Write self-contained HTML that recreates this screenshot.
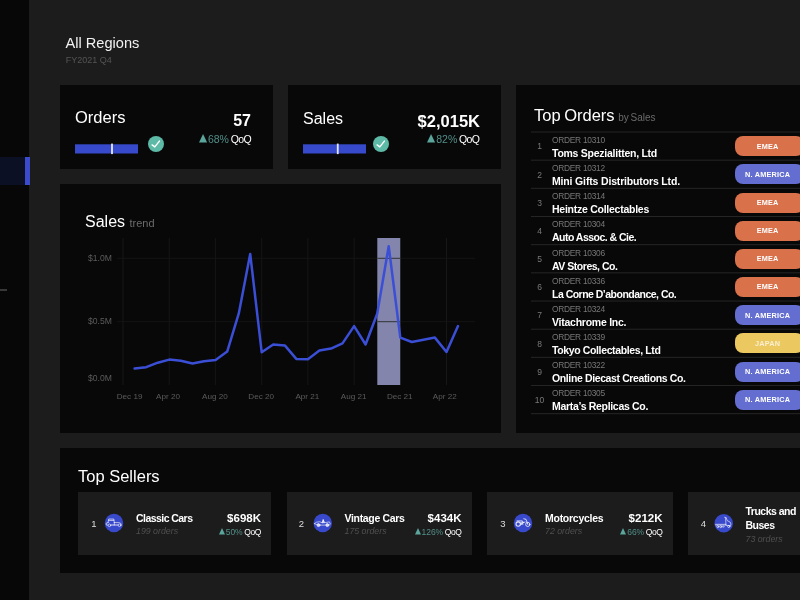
<!DOCTYPE html>
<html>
<head>
<meta charset="utf-8">
<title>Sales Dashboard</title>
<style>
html,body{margin:0;padding:0;}
body{width:800px;height:600px;overflow:hidden;background:#1c1c1c;font-family:"Liberation Sans",sans-serif;color:#fff;position:relative;}
#w{position:absolute;left:-8px;top:-8px;width:816px;height:616px;background:#1c1c1c;filter:blur(0.45px);}
#i{position:absolute;left:8px;top:8px;width:800px;height:600px;}
.abs{position:absolute;}
.t{position:absolute;white-space:nowrap;line-height:1;}
.card{position:absolute;background:#080808;}
.side{position:absolute;left:-8px;top:-8px;width:37px;height:616px;background:#070707;}
.side .act{position:absolute;left:0;top:165px;width:37px;height:28px;background:#0c1024;}
.side .act i{position:absolute;left:33px;top:0;width:4.5px;height:28px;background:#3a4bcc;}
.side .ln{position:absolute;left:0;top:297px;width:15px;height:2px;background:#383838;}
.g{color:#6b6b6b;}
.teal{color:#528f89;}
.qq{font-size:10.5px;word-spacing:-1.2px;}
.qq .qo{letter-spacing:-0.6px;}
.tr{display:inline-block;vertical-align:baseline;margin-right:0.8px;}
.tile .q .qo{letter-spacing:-0.4px;}
.tile .q{word-spacing:-0.8px;}
.bar{position:absolute;height:9.2px;background:#364acb;}
.tick{position:absolute;width:2px;height:10.6px;background:#e6e6f7;}
.chk{position:absolute;width:16px;height:16px;}
.row{position:absolute;left:531px;width:269px;height:28px;}
.row .n{position:absolute;left:0;width:17px;text-align:center;top:10.4px;font-size:8.5px;color:#7a7a7a;line-height:1;}
.row .o{position:absolute;left:21px;top:3.9px;font-size:8.4px;letter-spacing:-0.28px;color:#777;line-height:1;white-space:nowrap;}
.row .c{position:absolute;left:21px;top:15.9px;font-size:10.5px;font-weight:bold;color:#fff;line-height:1;white-space:nowrap;letter-spacing:-0.22px;}
.pill{position:absolute;left:203.6px;top:4.25px;width:69px;height:20px;border-radius:8px;}
.pill span{position:absolute;left:0;width:66px;text-align:center;top:6.4px;font-size:7.3px;font-weight:bold;color:#fff;line-height:1;letter-spacing:0.2px;}
.or{background:#d9714a;}
.pu{background:#636ed0;}
.ye{background:#ebc960;}
.tile{position:absolute;top:491.5px;height:63.3px;background:#1c1c1c;}
.tile .n{position:absolute;top:27.5px;font-size:9.5px;color:#ddd;line-height:1;width:12px;text-align:center;}
.tile .ic{position:absolute;top:22px;width:19px;height:19px;border-radius:50%;background:#3b4cd0;}
.tile .nm{position:absolute;top:21px;font-size:10.5px;font-weight:bold;line-height:1;white-space:nowrap;letter-spacing:-0.5px;}
.tile .od{position:absolute;top:35.5px;font-size:8.8px;font-style:italic;color:#505050;line-height:1;white-space:nowrap;}
.tile .v{position:absolute;top:21px;font-size:11.5px;font-weight:bold;line-height:1;white-space:nowrap;text-align:right;}
.tile .q{position:absolute;top:36px;font-size:8.5px;line-height:1;white-space:nowrap;text-align:right;}
</style>
</head>
<body>
<div id="w"><div id="i">
<div class="side"><div class="act"><i></i></div><div class="ln"></div></div>

<div class="t" style="left:65.5px;top:35.8px;font-size:14.6px;color:#f2f2f2;">All Regions</div>
<div class="t" style="left:65.7px;top:56px;font-size:9px;color:#555;">FY2021 Q4</div>

<!-- Orders card -->
<div class="card" style="left:60px;top:85px;width:213px;height:84px;"></div>
<div class="t" style="left:75px;top:108.6px;font-size:16.5px;">Orders</div>
<svg class="abs" style="left:70px;top:140px" width="75" height="20" viewBox="70 140 75 20"><rect x="75" y="144.3" width="63" height="9.2" fill="#364acb"/><rect x="111.1" y="143.6" width="1.8" height="10.5" fill="#e6e6f7"/></svg>

<svg class="chk" style="left:148.25px;top:136.25px;" viewBox="0 0 16 16"><circle cx="8" cy="8" r="8" fill="#5dbaa6"/><path d="M4.1 8.9 L6.8 10.9 L11.4 5.1" fill="none" stroke="#fff" stroke-width="1.45" stroke-linecap="round" stroke-linejoin="round"/></svg>
<div class="t" style="right:549px;top:113px;font-size:16px;font-weight:bold;">57</div>
<div class="t qq" style="right:549px;top:133.5px;"><svg class="tr" width="8.1" height="8.4" viewBox="0 0 8.1 8.4"><path d="M4.05 0 L8.1 8.4 L0 8.4 Z" fill="#5ba59c"/></svg><span class="teal">68%</span> <span class="qo">QoQ</span></div>

<!-- Sales card -->
<div class="card" style="left:288px;top:85px;width:213px;height:84px;"></div>
<div class="t" style="left:303px;top:111px;font-size:16px;">Sales</div>
<svg class="abs" style="left:298px;top:140px" width="75" height="20" viewBox="298 140 75 20"><rect x="303" y="144.3" width="63" height="9.2" fill="#364acb"/><rect x="336.85" y="143.6" width="1.8" height="10.5" fill="#e6e6f7"/></svg>

<svg class="chk" style="left:373.25px;top:136.1px;" viewBox="0 0 16 16"><circle cx="8" cy="8" r="8" fill="#5dbaa6"/><path d="M4.1 8.9 L6.8 10.9 L11.4 5.1" fill="none" stroke="#fff" stroke-width="1.45" stroke-linecap="round" stroke-linejoin="round"/></svg>
<div class="t" style="right:320px;top:112.5px;font-size:16.5px;font-weight:bold;">$2,015K</div>
<div class="t qq" style="right:320.7px;top:133.5px;"><svg class="tr" width="8.1" height="8.4" viewBox="0 0 8.1 8.4"><path d="M4.05 0 L8.1 8.4 L0 8.4 Z" fill="#5ba59c"/></svg><span class="teal">82%</span> <span class="qo">QoQ</span></div>

<!-- Sales trend card -->
<div class="card" style="left:60px;top:184px;width:441px;height:249px;"></div>
<div class="t" style="left:85px;top:214px;font-size:16px;">Sales <span class="g" style="font-size:11px;">trend</span></div>
<svg class="abs" style="left:60px;top:184px;" width="441" height="249" viewBox="60 184 441 249">
  <g stroke="#161616" stroke-width="1">
    <line x1="123.0" y1="238" x2="123.0" y2="385"/>
    <line x1="169.2" y1="238" x2="169.2" y2="385"/>
    <line x1="215.4" y1="238" x2="215.4" y2="385"/>
    <line x1="261.7" y1="238" x2="261.7" y2="385"/>
    <line x1="307.9" y1="238" x2="307.9" y2="385"/>
    <line x1="354.1" y1="238" x2="354.1" y2="385"/>
    <line x1="400.3" y1="238" x2="400.3" y2="385"/>
    <line x1="446.5" y1="238" x2="446.5" y2="385"/>
    <line x1="117" y1="258.3" x2="475" y2="258.3" stroke="#141414"/>
    <line x1="117" y1="321.7" x2="475" y2="321.7" stroke="#141414"/>
  </g>
  <rect x="377.3" y="238" width="22.9" height="147" fill="#8385ad"/>
  <g stroke="#333" stroke-width="1">
    <line x1="377.4" y1="258.3" x2="400.1" y2="258.3"/>
    <line x1="377.4" y1="321.7" x2="400.1" y2="321.7"/>
  </g>
  <polyline transform="translate(0.8,0.4)" fill="none" stroke="#3a4fd6" stroke-width="2.5" stroke-linejoin="round" stroke-linecap="round" points="133.8,368.2 145.4,366.8 157,362.3 168.5,359.2 180.1,360.3 191.7,363.1 203.3,360.9 214.8,359.7 226.4,351.2 238,313 249.4,253.5 260.9,351.9 272.4,344.1 284,345 295.5,358.5 307.1,358.8 318.6,350.2 330.2,348.2 341.7,343 353.3,325.7 364.8,344.1 376.4,313.4 387.9,245.8 399.5,337.2 411,341.6 422.6,339.3 434.1,337.2 445.7,351.6 457.2,325.7"/>
  <g font-family="Liberation Sans, sans-serif" font-size="8.1" fill="#5c5c5c">
    <text x="88" y="260.8" font-size="8.6">$1.0M</text>
    <text x="88" y="324" font-size="8.6">$0.5M</text>
    <text x="88" y="381" font-size="8.6">$0.0M</text>
    <text x="129.6" y="398.8" text-anchor="middle">Dec 19</text>
    <text x="168" y="398.8" text-anchor="middle">Apr 20</text>
    <text x="214.9" y="398.8" text-anchor="middle">Aug 20</text>
    <text x="261.2" y="398.8" text-anchor="middle">Dec 20</text>
    <text x="307.4" y="398.8" text-anchor="middle">Apr 21</text>
    <text x="353.6" y="398.8" text-anchor="middle">Aug 21</text>
    <text x="399.8" y="398.8" text-anchor="middle">Dec 21</text>
    <text x="444.8" y="398.8" text-anchor="middle">Apr 22</text>
  </g>
</svg>

<!-- Top Orders card -->
<div class="card" style="left:516px;top:85px;width:292px;height:348px;"></div>
<div class="t" style="left:534px;top:106.5px;font-size:16.5px;word-spacing:-1px;">Top Orders <span class="g" style="font-size:10px;">by Sales</span></div>
<div class="row" style="top:132.00px;"><div class="n">1</div><div class="o">ORDER 10310</div><div class="c" style="letter-spacing:-0.256px">Toms Spezialitten, Ltd</div><div class="pill or"><span>EMEA</span></div></div>
<div class="row" style="top:160.17px;"><div class="n">2</div><div class="o">ORDER 10312</div><div class="c" style="letter-spacing:-0.160px">Mini Gifts Distributors Ltd.</div><div class="pill pu"><span>N. AMERICA</span></div></div>
<div class="row" style="top:188.34px;"><div class="n">3</div><div class="o">ORDER 10314</div><div class="c" style="letter-spacing:-0.255px">Heintze Collectables</div><div class="pill or"><span>EMEA</span></div></div>
<div class="row" style="top:216.51px;"><div class="n">4</div><div class="o">ORDER 10304</div><div class="c" style="letter-spacing:-0.517px">Auto Assoc. &amp; Cie.</div><div class="pill or"><span>EMEA</span></div></div>
<div class="row" style="top:244.68px;"><div class="n">5</div><div class="o">ORDER 10306</div><div class="c" style="letter-spacing:-0.477px">AV Stores, Co.</div><div class="pill or"><span>EMEA</span></div></div>
<div class="row" style="top:272.85px;"><div class="n">6</div><div class="o">ORDER 10336</div><div class="c" style="letter-spacing:-0.514px">La Corne D&rsquo;abondance, Co.</div><div class="pill or"><span>EMEA</span></div></div>
<div class="row" style="top:301.02px;"><div class="n">7</div><div class="o">ORDER 10324</div><div class="c" style="letter-spacing:-0.250px">Vitachrome Inc.</div><div class="pill pu"><span>N. AMERICA</span></div></div>
<div class="row" style="top:329.19px;"><div class="n">8</div><div class="o">ORDER 10339</div><div class="c" style="letter-spacing:-0.372px">Tokyo Collectables, Ltd</div><div class="pill ye"><span style="color:rgba(255,255,255,.7)">JAPAN</span></div></div>
<div class="row" style="top:357.36px;"><div class="n">9</div><div class="o">ORDER 10322</div><div class="c" style="letter-spacing:-0.380px">Online Diecast Creations Co.</div><div class="pill pu"><span>N. AMERICA</span></div></div>
<div class="row" style="top:385.53px;"><div class="n">10</div><div class="o">ORDER 10305</div><div class="c" style="letter-spacing:-0.315px">Marta&rsquo;s Replicas Co.</div><div class="pill pu"><span>N. AMERICA</span></div></div>
<svg class="abs" style="left:531px;top:120px;" width="277" height="300" viewBox="531 120 277 300"><g stroke="#292929" stroke-width="0.9"><line x1="531" y1="132.00" x2="808" y2="132.00"/><line x1="531" y1="160.17" x2="808" y2="160.17"/><line x1="531" y1="188.34" x2="808" y2="188.34"/><line x1="531" y1="216.51" x2="808" y2="216.51"/><line x1="531" y1="244.68" x2="808" y2="244.68"/><line x1="531" y1="272.85" x2="808" y2="272.85"/><line x1="531" y1="301.02" x2="808" y2="301.02"/><line x1="531" y1="329.19" x2="808" y2="329.19"/><line x1="531" y1="357.36" x2="808" y2="357.36"/><line x1="531" y1="385.53" x2="808" y2="385.53"/><line x1="531" y1="413.70" x2="808" y2="413.70"/></g></svg>

<!-- Top Sellers -->
<div class="card" style="left:60px;top:448px;width:748px;height:125px;"></div>
<div class="t" style="left:78px;top:468px;font-size:16.5px;">Top Sellers</div>

<div class="tile" style="left:78px;width:193px;">
  <div class="n" style="left:10px;">1</div>
  <div class="nm" style="left:58px;letter-spacing:-0.550px">Classic Cars</div><div class="od" style="left:58px;">199 orders</div>
  <div class="v" style="right:10px;">$698K</div><div class="q" style="right:10px;"><svg class="tr" width="6" height="6.6" viewBox="0 0 6 6.6"><path d="M3 0 L6 6.6 L0 6.6 Z" fill="#5ba59c"/></svg><span class="teal">50%</span> <span class="qo">QoQ</span></div>
</div>
<div class="tile" style="left:286.5px;width:185px;">
  <div class="n" style="left:9px;">2</div>
  <div class="nm" style="left:58px;letter-spacing:-0.325px">Vintage Cars</div><div class="od" style="left:58px;">175 orders</div>
  <div class="v" style="right:10px;">$434K</div><div class="q" style="right:10px;"><svg class="tr" width="6" height="6.6" viewBox="0 0 6 6.6"><path d="M3 0 L6 6.6 L0 6.6 Z" fill="#5ba59c"/></svg><span class="teal">126%</span> <span class="qo">QoQ</span></div>
</div>
<div class="tile" style="left:487px;width:185.5px;">
  <div class="n" style="left:10px;">3</div>
  <div class="nm" style="left:58px;letter-spacing:-0.264px">Motorcycles</div><div class="od" style="left:58px;">72 orders</div>
  <div class="v" style="right:10px;">$212K</div><div class="q" style="right:10px;"><svg class="tr" width="6" height="6.6" viewBox="0 0 6 6.6"><path d="M3 0 L6 6.6 L0 6.6 Z" fill="#5ba59c"/></svg><span class="teal">66%</span> <span class="qo">QoQ</span></div>
</div>
<div class="tile" style="left:687.5px;width:120px;">
  <div class="n" style="left:10px;">4</div>
  <div class="nm" style="left:58px;top:12.2px;line-height:14px;white-space:normal;width:60px;">Trucks and Buses</div><div class="od" style="left:58px;top:43px;">73 orders</div>
</div>
<svg class="abs" style="left:99px;top:508px;" width="30" height="30" viewBox="0 0 30 30"><circle cx="15" cy="15" r="9.25" fill="#3849cb"/><g fill="none" stroke="#fff" stroke-opacity=".8" stroke-width=".75" stroke-linejoin="round" stroke-linecap="round"><path d="M9.1 14.6 L9.7 11 L14.8 11 L15.3 14.5"/><path d="M9.8 12.3 L14.8 12.3" stroke-opacity=".75" stroke-width="1"/><path d="M8.7 17.1 L7.2 17 L7.2 15.2 L9.1 14.6 M15.3 14.5 L20.6 14.7 L22.2 15.8 L22.2 17.1 M15.3 14.5 L15.3 17"/><path d="M12 17 L19 17" stroke-width="1"/><circle cx="10.4" cy="17.3" r="1.3"/><circle cx="20.5" cy="17.3" r="1.3"/></g></svg>
<svg class="abs" style="left:308px;top:508px;" width="30" height="30" viewBox="0 0 30 30"><circle cx="14.75" cy="15" r="9.25" fill="#3849cb"/><g fill="none" stroke="#fff" stroke-opacity=".8" stroke-width=".75" stroke-linejoin="round" stroke-linecap="round"><path d="M6.4 15.6 Q8.2 13.7 11.4 13.7 L14.4 14.8 L15.3 11.8 L16.3 14.7 L21.4 13.9 L22.2 15.6 L21.8 16.8 M12.3 17.1 L17.4 17.1 M6.4 15.6 L8.6 16.6"/><path d="M15.3 11.8 L16.3 14.7 L14.4 14.8 Z" fill="#fff" fill-opacity=".7"/><circle cx="10.5" cy="17.1" r="1.5" fill="#fff" fill-opacity=".8"/><circle cx="19.3" cy="17.1" r="1.5" fill="#fff" fill-opacity=".8"/></g></svg>
<svg class="abs" style="left:508px;top:508px;" width="30" height="30" viewBox="0 0 30 30"><circle cx="15" cy="15" r="9.25" fill="#3849cb"/><g fill="none" stroke="#fff" stroke-opacity=".85" stroke-linejoin="round" stroke-linecap="round"><circle cx="10.2" cy="16.1" r="2.2" stroke-width="1.1"/><circle cx="19.8" cy="16.4" r="2.1" stroke-width=".9"/><path d="M9 12.9 L14.4 12.9 L15.2 14.6 L13 16.4 M15.2 14.6 L17.2 14" stroke-width=".9"/><path d="M15.8 10.8 L18 11.3 L19.8 16.4" stroke-width=".9"/><path d="M12.6 13.6 L15.4 13.6 L15.4 16.8 L12.6 16.8 Z" fill="#fff" fill-opacity=".6" stroke="none"/></g></svg>
<svg class="abs" style="left:709px;top:508px;" width="30" height="30" viewBox="0 0 30 30"><circle cx="14.75" cy="15.25" r="9.25" fill="#3849cb"/><g fill="none" stroke="#fff" stroke-opacity=".8" stroke-width=".75" stroke-linejoin="round" stroke-linecap="round"><path d="M6.6 16.2 L17 16.2 L17 17.2 L6.6 17.2 Z" fill="#fff" fill-opacity=".5" stroke-opacity=".45"/><path d="M15.6 9.3 L17.2 9.6 L18.2 12.6 L21 14 L22 16 L21.6 17.6 L17 17.4 L16.6 10"/><circle cx="8.8" cy="18.7" r="1"/><circle cx="11.8" cy="18.7" r="1"/><circle cx="14.3" cy="18.7" r=".8" stroke-opacity=".5"/><circle cx="19.8" cy="18.5" r="1.1"/></g></svg>
</div></div>
</body>
</html>
